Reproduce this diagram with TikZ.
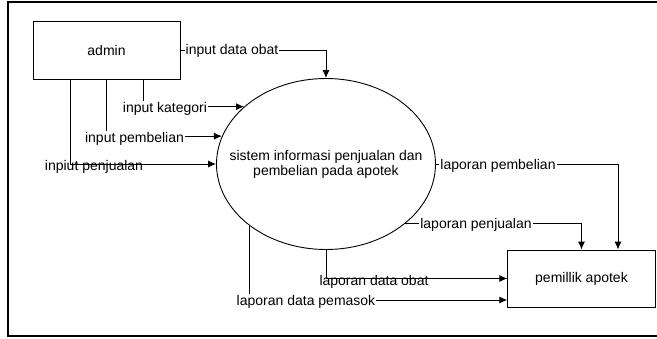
\documentclass[tikz,border=0pt]{standalone}
\usepackage{fontspec}
\setmainfont{Liberation Sans}
\usetikzlibrary{shapes.geometric,arrows.meta}
\begin{document}
\begin{tikzpicture}[x=1pt,y=-1pt,>={Latex[length=8pt,width=7pt]},line width=.9pt,
  every node/.style={font=\fontsize{14}{15}\selectfont},
  box/.style={draw,minimum width=147pt,minimum height=58pt,inner sep=0pt},
  lbl/.style={fill=white,inner sep=1pt}]
\useasboundingbox(0,0)rectangle(657,338);
\draw[line width=1.2pt](657,2)--(8,2)--(8,336)--(657,336);
\node[box](admin)at(106.5,50){admin};
\node[box,minimum width=147.5pt,minimum height=57pt](owner)at(581.5,278.5){pemillik apotek};
\node[draw,ellipse,minimum width=219pt,minimum height=171pt,inner sep=0pt](proc)at(326,164){};
\node[align=center](ptext)at(proc.center){sistem informasi penjualan dan\\pembelian pada apotek};
% masukan dari admin
\draw[->](admin.east)-|(proc.north);
\draw[->]([xshift=36.5pt]admin.south)|-(proc.145);
\draw[->](admin.south)|-(proc.165);
\draw[->]([xshift=-36.5pt]admin.south)|-(proc.west);
\node[lbl](lobat)at(232,51){input data obat};
\node[lbl](lkat)at(165,109){input kategori};
\node[lbl](lbeli)at(134.5,139){input pembelian};
\node[inner sep=1pt](ljual)at(94,167){inpiut penjualan};
% laporan ke pemilik
\draw[->](proc.east)-|([xshift=36.5pt]owner.north);
\draw[->](proc.-37)-|(owner.north);
\draw[->](proc.south)|-(owner.west);
\draw[->](proc.219)|-([yshift=-21.5pt]owner.west);
\node[lbl](rbeli)at(498,166){laporan pembelian};
\node[lbl](rjual)at(476,225){laporan penjualan};
\node[inner sep=1pt](robat)at(374,282){laporan data obat};
\node[lbl](rpasok)at(306,302){laporan data pemasok};
\end{tikzpicture}
\end{document}
